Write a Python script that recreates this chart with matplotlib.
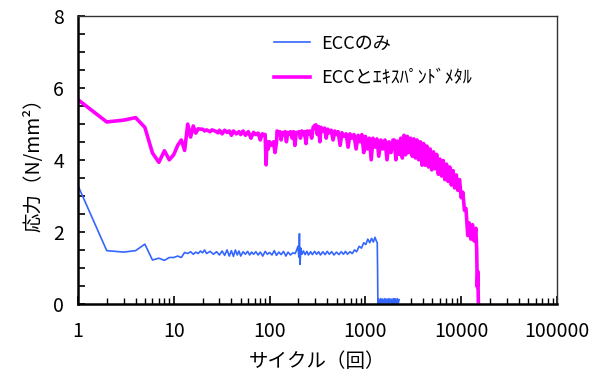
import matplotlib
matplotlib.use('Agg')
import matplotlib.pyplot as plt
from matplotlib.ticker import LogLocator, FixedLocator, MultipleLocator, NullFormatter

plt.rcParams['font.family'] = ['Noto Sans CJK JP', 'DejaVu Sans']

# ECCのみ (cycle, stress)
ecc_cycles = [1, 2, 3, 4, 5, 6, 7, 8, 9, 10, 11, 12, 13, 14, 15, 16, 17, 18, 19, 20,
              21, 22, 24, 26, 28, 30, 32, 34, 36, 38, 40, 42, 44, 46, 48, 50, 53, 56, 59, 62,
              65, 68, 72, 76, 80, 85, 90, 95, 100, 106, 112, 118, 125, 132, 140, 148, 156, 165, 175, 185,
              192, 198, 202, 205, 208, 212, 218, 226, 235, 245, 255, 268, 280, 295, 310, 325, 340, 360, 380, 400,
              420, 445, 470, 500, 530, 560, 590, 620, 650, 690, 730, 770, 810, 860, 910, 960, 1010, 1060, 1110, 1160,
              1210, 1260, 1300, 1330, 1340, 1350, 1380, 1410, 1450, 1480, 1520, 1560, 1600, 1640, 1680, 1720,
              1760, 1810, 1850, 1900, 1950, 2000, 2050, 2100, 2150, 2200, 2250]
ecc_stress = [3.29, 1.48, 1.44, 1.48, 1.66, 1.22, 1.27, 1.21, 1.29, 1.29, 1.33, 1.29, 1.43, 1.40, 1.45, 1.38, 1.44, 1.40, 1.47, 1.42,
              1.50, 1.40, 1.46, 1.38, 1.45, 1.36, 1.47, 1.35, 1.50, 1.33, 1.48, 1.32, 1.50, 1.36, 1.47, 1.33, 1.45, 1.38, 1.46, 1.36,
              1.44, 1.38, 1.45, 1.36, 1.44, 1.33, 1.46, 1.38, 1.43, 1.36, 1.48, 1.35, 1.44, 1.37, 1.46, 1.33, 1.44, 1.36, 1.42, 1.40,
              1.50, 1.60, 1.30, 1.95, 1.10, 1.55, 1.38, 1.47, 1.37, 1.46, 1.36, 1.45, 1.37, 1.46, 1.38, 1.45, 1.36, 1.45, 1.37, 1.46,
              1.38, 1.45, 1.36, 1.44, 1.37, 1.45, 1.38, 1.46, 1.38, 1.45, 1.40, 1.50, 1.45, 1.60, 1.55, 1.70, 1.65, 1.80, 1.70, 1.82,
              1.72, 1.85, 1.75, 1.70, 1.00, 0.00, 0.14, 0.01, 0.15, 0.02, 0.14, 0.01, 0.15, 0.02, 0.14, 0.01,
              0.15, 0.02, 0.14, 0.01, 0.15, 0.02, 0.14, 0.01, 0.15, 0.02, 0.12]

# ECCとエキスパンドメタル (cycle, stress)
em_cycles = [1, 2, 3, 4, 5, 6, 7, 8, 9, 10, 11, 12, 13, 14, 15, 16, 17, 18, 19, 20,
             21, 22, 24, 25, 27, 29, 30, 32, 34, 36, 38, 40, 42, 45, 48, 50, 53, 56, 60, 64,
             68, 72, 76, 80, 84, 88, 90, 92, 94, 97, 100, 103, 106, 110, 114, 118, 120, 124, 128, 132,
             136, 140, 145, 150, 155, 160, 166, 172, 178, 184, 190, 196, 203, 210, 217, 224, 232, 240, 248, 256,
             265, 275, 285, 295, 305, 315, 325, 335, 345, 360, 375, 390, 405, 420, 440, 460, 480, 500, 520, 545,
             570, 600, 630, 660, 690, 720, 760, 800, 840, 880, 920, 960, 1000, 1050, 1100, 1150, 1200, 1260, 1320, 1380,
             1450, 1520, 1600, 1680, 1760, 1850, 1940,
             2000, 2080, 2160, 2250, 2340, 2430, 2530, 2630, 2740, 2850, 2960, 3080, 3200, 3330, 3460, 3600,
             3750, 3900, 4050, 4210, 4380, 4560, 4740, 4930, 5130, 5330, 5540, 5770, 6000, 6240, 6490, 6750,
             7020, 7300, 7590, 7890, 8210, 8540, 8880, 9230, 9600, 9990, 10400, 10800, 11200, 11700, 12100, 12600,
             13100, 13600, 14200, 14500, 14700, 14900, 15100]
em_stress = [5.67, 5.05, 5.10, 5.17, 4.90, 4.19, 3.93, 4.25, 4.00, 4.14, 4.40, 4.55, 4.26, 4.99, 4.63, 4.94, 4.74, 4.86, 4.85, 4.85,
             4.80, 4.83, 4.78, 4.83, 4.80, 4.75, 4.82, 4.72, 4.82, 4.76, 4.80, 4.68, 4.80, 4.72, 4.78, 4.70, 4.80, 4.68, 4.78, 4.60,
             4.76, 4.70, 4.74, 4.55, 4.72, 4.70, 4.70, 3.86, 4.50, 4.30, 4.50, 4.45, 4.40, 4.50, 4.20, 4.47, 4.80, 4.72, 4.78, 4.55,
             4.76, 4.70, 4.78, 4.50, 4.76, 4.72, 4.78, 4.60, 4.78, 4.40, 4.76, 4.74, 4.78, 4.60, 4.80, 4.70, 4.78, 4.45, 4.80, 4.72,
             4.80, 4.60, 4.90, 4.95, 4.97, 4.70, 4.92, 4.50, 4.90, 4.80, 4.88, 4.60, 4.85, 4.75, 4.82, 4.55, 4.80, 4.70, 4.78, 4.40,
             4.75, 4.65, 4.72, 4.35, 4.72, 4.60, 4.70, 4.30, 4.68, 4.50, 4.70, 4.20, 4.65, 4.30, 4.60, 4.00, 4.60, 4.35, 4.58, 4.10,
             4.55, 4.30, 4.55, 4.00, 4.50, 4.20, 4.55,
             4.55, 4.00, 4.52, 4.15, 4.60, 4.05, 4.68, 4.14, 4.65, 4.20, 4.60, 4.10, 4.58, 4.05, 4.55, 4.00,
             4.50, 3.85, 4.45, 3.85, 4.38, 3.80, 4.30, 3.72, 4.22, 3.75, 4.15, 3.60, 4.02, 3.55, 3.98, 3.45,
             3.88, 3.40, 3.80, 3.30, 3.70, 3.22, 3.58, 3.15, 3.45, 2.95, 3.10, 2.60, 2.65, 1.90, 2.25, 1.80,
             2.20, 1.75, 2.10, 1.50, 0.48, 0.90, 0.00]

x_ticks = [1, 10, 100, 1000, 10000, 100000]
x_tick_labels = ['1', '10', '100', '1000', '10000', '100000']
y_ticks = [0, 2, 4, 6, 8]

fig = plt.figure(figsize=(5.99, 3.76), dpi=100)
ax = fig.add_axes([0.130, 0.1915, 0.800, 0.767])

ax.plot(ecc_cycles, ecc_stress, color='#3366ff', lw=1.2, label='ECCのみ')
ax.plot(em_cycles, em_stress, color='#ff00ff', lw=2.6, label='ECCとｴｷｽﾊﾟﾝﾄﾞﾒﾀﾙ')

ax.set_xscale('log')
ax.set_xlim(1, 100000)
ax.set_ylim(0, 8)
ax.xaxis.set_major_locator(FixedLocator(x_ticks))
ax.set_xticklabels(x_tick_labels)
ax.xaxis.set_minor_locator(LogLocator(base=10, subs=range(2, 10)))
ax.xaxis.set_minor_formatter(NullFormatter())
ax.set_yticks(y_ticks)
ax.yaxis.set_minor_locator(MultipleLocator(0.5))

ax.tick_params(which='both', direction='in', top=False, right=False, labelsize=14, colors='black')
ax.tick_params(axis='x', which='major', length=6, width=1.2, pad=12)
ax.tick_params(axis='x', which='minor', length=4, width=1.0)
ax.tick_params(axis='y', which='both', length=5, width=1.2, pad=10)

for side in ['left', 'bottom']:
    ax.spines[side].set_linewidth(1.8)
for side in ['top', 'right']:
    ax.spines[side].set_linewidth(1.0)
    ax.spines[side].set_color('#333333')

ax.set_xlabel('サイクル（回）', fontsize=14, labelpad=7)
ax.set_ylabel('応力（N/mm²）', fontsize=14, labelpad=6)

ax.legend(loc='upper left', bbox_to_anchor=(0.375, 0.99), frameon=False, fontsize=13,
          handlelength=2.0, handletextpad=0.6, labelspacing=0.9)

fig.savefig('out.png', dpi=100)
